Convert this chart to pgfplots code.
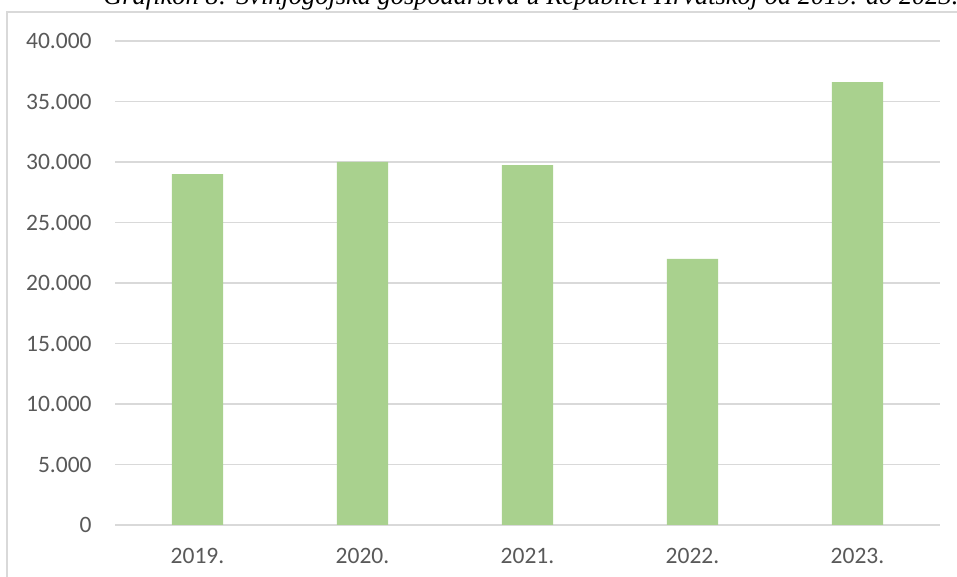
\documentclass[border=0pt]{standalone}
\usepackage{fontspec}
\setmainfont{Carlito}
\newfontfamily\titlefont{Liberation Serif}
\usepackage{pgfplots}
\pgfplotsset{compat=1.18}
\definecolor{bargreen}{HTML}{A9D18E}
\definecolor{gridgray}{HTML}{D9D9D9}
\definecolor{labelgray}{HTML}{595959}
\begin{document}
\begin{tikzpicture}
\useasboundingbox (0,0) rectangle (478.5pt,288.5pt);
% chart frame and the cut-off caption
\begin{scope}[x=0.5pt,y=0.5pt]
\clip (0,0) rectangle (957,577);
\draw[gridgray, line width=0.75pt] (7,-10) rectangle (970,565);
\node[anchor=base west, inner sep=0pt, font=\titlefont\itshape\fontsize{13.2}{15}\selectfont]
  at (103,572) {Grafikon 8: Svinjogojska gospodarstva u Republici Hrvatskoj od 2019. do 2023.};
\end{scope}
\begin{axis}[
  at={(57.5pt,26pt)}, anchor=south west,
  scale only axis, width=412.5pt, height=242pt,
  xmin=-0.5, xmax=4.5, ymin=0, ymax=40000,
  xtick={0,1,2,3,4},
  xticklabels={2019.,2020.,2021.,2022.,2023.},
  ytick={0,5000,...,40000},
  scaled y ticks=false,
  axis line style={draw=none},
  major tick length=0pt,
  ymajorgrids, grid style={gridgray, line width=0.75pt},
  tick label style={font=\fontsize{11.75}{14}\selectfont, text=labelgray, inner sep=0pt},
  yticklabel style={anchor=east, xshift=-11.5pt,
    /pgf/number format/.cd, fixed, 1000 sep={.}, assume math mode=true},
  xticklabel style={anchor=north, yshift=-11.5pt},
  clip=false]
\addplot[ybar, fill=bargreen, draw=none, bar width=0.31]
  coordinates {(0,29000) (1,30000) (2,29750) (3,22000) (4,36600)};
\end{axis}
\end{tikzpicture}
\end{document}
